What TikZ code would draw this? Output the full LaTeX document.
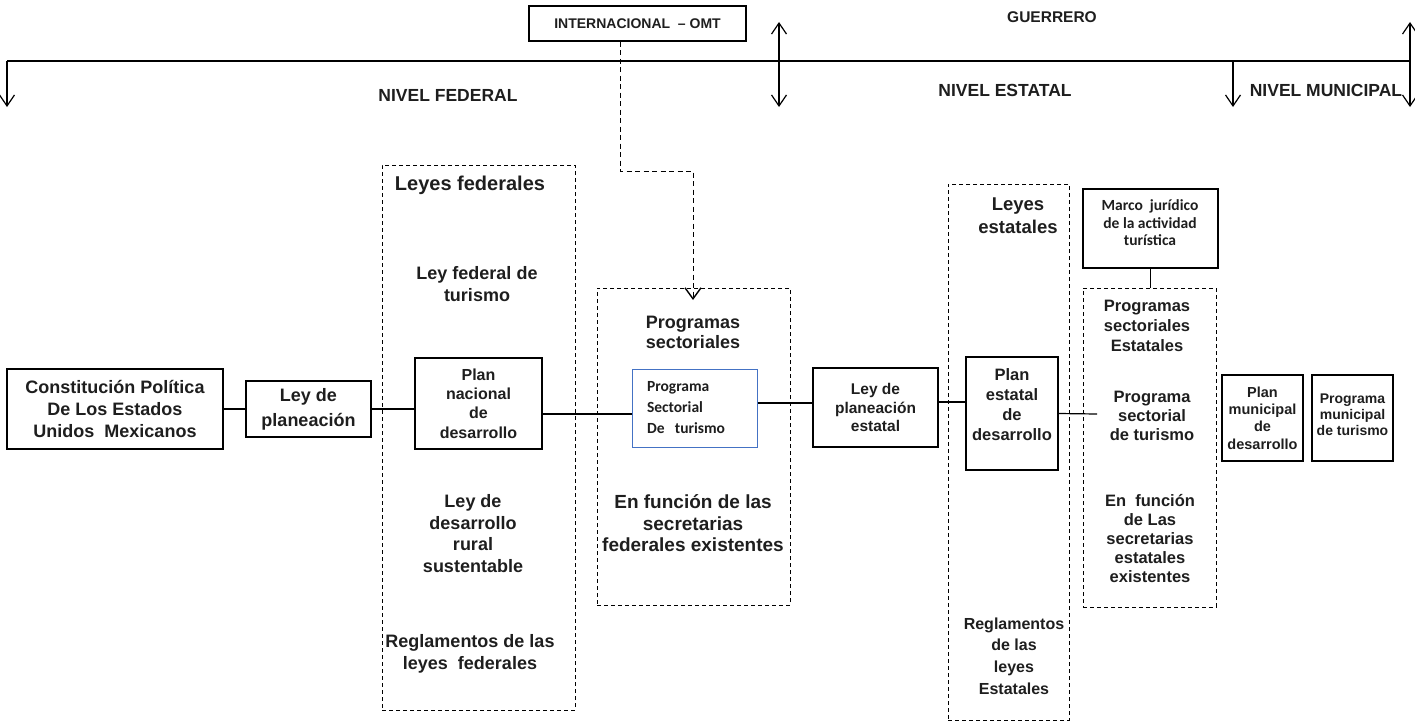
\documentclass[tikz,border=0pt]{standalone}
\usepackage{fontspec}
\setmainfont{Liberation Sans}
\newfontfamily\calfont{Carlito}
\usetikzlibrary{arrows.meta}
\definecolor{boxblue}{HTML}{4472C4}
\definecolor{ink}{HTML}{1E1E1E}

\begin{document}
\begin{tikzpicture}[x=1pt,y=-1pt,
  fs/.style 2 args={font=\fontsize{#1}{#2}\selectfont\bfseries},
  every node/.style={text=ink},
  box/.style={draw=black, line width=1.2pt, inner sep=0pt, align=center},
  dbox/.style={draw=black, dash pattern=on 4pt off 3pt, line width=1pt, inner sep=0pt},
  txt/.style={align=center, inner sep=0pt},
  link/.style={line width=1.2pt},
  barb/.tip={Straight Barb[length=11pt,width=15pt,line width=1.2pt]},
  smallbarb/.tip={Straight Barb[length=11pt,width=16pt,line width=1.4pt]}
]
\useasboundingbox (0,0) rectangle (1415,725);

% ---- level line with the level markers
\coordinate (tl) at (7,61);
\coordinate (tr) at (1411,61);
\coordinate (fedB) at (7,107);
\coordinate (estA) at (779,22);
\coordinate (estB) at (779,107);
\coordinate (munT) at (1233,61);
\coordinate (munB) at (1233,107);
\coordinate (endA) at (1410,22);
\coordinate (endB) at (1410,107);
\draw[link] (tl) -- (tr);
\draw[link,-barb] (tl) -- (fedB);
\draw[link,barb-barb] (estA) -- (estB);
\draw[link,-barb] (munT) -- (munB);
\draw[link,barb-barb] (endA) -- (endB);

\node[fs={17.5}{21}] (nf) at (448,95) {NIVEL FEDERAL};
\node[fs={17.5}{21}] (ne) at (1005,90) {NIVEL ESTATAL};
\node[fs={17.5}{21}] (nm) at (1326,90) {NIVEL MUNICIPAL};
\node[fs={15.5}{19}] (gu) at (1052,17) {GUERRERO};
\node[box, fs={14}{17}, minimum width=217pt, minimum height=35pt] (omt) at (637.5,23.5) {INTERNACIONAL \ – OMT};

% ---- federal level
\node[box, fs={18}{22}, minimum width=216pt, minimum height=80pt] (const) at (115,409)
  {Constitución Política\\ De Los Estados\\Unidos \ Mexicanos};
\node[box, fs={18}{25}, minimum width=125pt, minimum height=56pt] (ley) at (308.5,409)
  {Ley de\\planeación};

\node[dbox, minimum width=193pt, minimum height=545pt] (lf) at (478.5,437.5) {};
\node[txt, fs={20}{24}] (lft) at (470,185) {Leyes federales};
\node[txt, fs={18}{22}] (lft1) at (477,284) {Ley federal de\\turismo};
\node[box, fs={16}{19.3}, minimum width=127pt, minimum height=91pt] (pnd) at (478.5,403.5)
  {Plan\\nacional\\de\\desarrollo};
\node[txt, fs={18}{21.7}] (lft2) at (473,533.5) {Ley de\\desarrollo\\rural\\sustentable};
\node[txt, fs={18}{22}] (lft3) at (470,654) {Reglamentos de las\\leyes \ federales};

\node[dbox, minimum width=193pt, minimum height=317pt] (ps) at (693.5,446.5) {};
\node[txt, fs={18}{20}] (pst1) at (693,332) {Programas\\sectoriales};
\node[draw=boxblue, line width=1pt, inner ysep=0pt, inner xsep=15pt, text width=95pt,
  align=left, minimum height=78pt, font=\fontsize{15.5}{21}\selectfont\calfont\bfseries]
  (psec) at (694.5,408) {Programa\\Sectorial\\De \ turismo};
\node[txt, fs={19}{21.5}] (pst2) at (693,523.5) {En función de las\\secretarias\\federales existentes};

% ---- state level
\node[box, fs={15.5}{18.7}, minimum width=125pt, minimum height=79pt] (lpe) at (875.5,407.5)
  {Ley de\\planeación\\estatal};

\node[dbox, minimum width=121pt, minimum height=536pt] (le) at (1008.5,452) {};
\node[txt, fs={18.5}{23}] (let1) at (1018,215.5) {Leyes\\estatales};
\node[box, minimum width=92pt, minimum height=113pt] (pe) at (1012,413.5) {};
\node[txt, fs={16.5}{20}] (pet) at (1012,405) {Plan\\estatal\\de\\desarrollo};
\node[txt, fs={16}{21.7}] (let2) at (1014,656) {Reglamentos\\de las\\leyes\\Estatales};

\node[box, minimum width=135pt, minimum height=79pt] (marco) at (1150.5,228.5) {};
\node[txt, font=\fontsize{15.5}{17.5}\selectfont\calfont\bfseries] (marcot) at (1150,223)
  {Marco \ jurídico\\de la actividad\\turística};

\node[dbox, minimum width=133pt, minimum height=319pt] (pse) at (1149.5,447.5) {};
\node[txt, fs={16.5}{20}] (pse1) at (1147,325.5) {Programas\\sectoriales\\Estatales};
\node[txt, fs={16.5}{19}] (pse2) at (1152,416) {Programa\\sectorial\\de turismo};
\node[txt, fs={16.5}{19}] (pse3) at (1150,539) {En \ función\\de Las\\secretarias\\estatales\\existentes};

% ---- municipal level
\node[box, fs={14.5}{17.3}, minimum width=81pt, minimum height=86pt] (pm) at (1262.5,418)
  {Plan\\municipal\\de\\desarrollo};
\node[box, minimum width=81pt, minimum height=86pt] (pmt) at (1352.5,418) {};
\node[txt, fs={14}{16}] (pmtt) at (1352.5,415) {Programa\\municipal\\de turismo};

% ---- connectors
\draw[link] (const.east) -- (ley.west);
\draw[link] (ley.east) -- (ley.east -| pnd.west);
\draw[link] ([yshift=-10.5pt]pnd.east) coordinate (c3) -- (c3 -| psec.west);
\draw[link] ([yshift=5pt]psec.east) coordinate (c4) -- (c4 -| lpe.west);
\draw[link] ([yshift=5.5pt]lpe.east) coordinate (c5) -- (c5 -| pe.west);
\coordinate (c6) at (1097,414);
\draw[link] (pe.east) -- (c6);
\draw[link] (marco.south) -- (marco.south |- pse.north);

% dashed influence from the international level
\coordinate (o1) at (620,171);
\coordinate (o2) at (693,171);
\coordinate (o3) at (693,300);
\draw[line width=1pt, dash pattern=on 5pt off 3.5pt, -smallbarb]
  (o1 |- omt.south) -- (o1) -- (o2) -- (o3);
\end{tikzpicture}
\end{document}
